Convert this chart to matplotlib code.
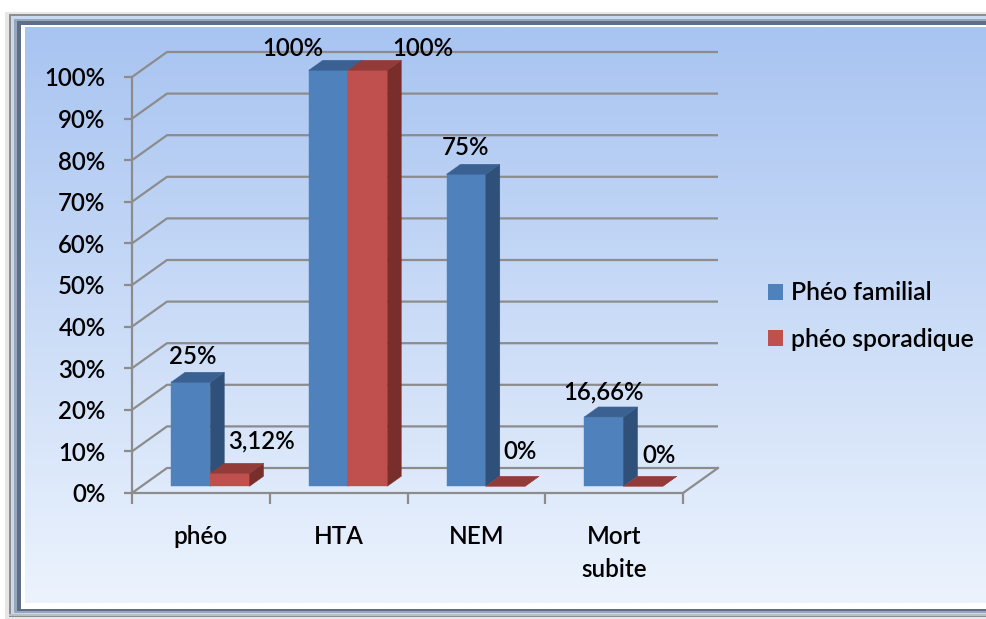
import matplotlib.pyplot as plt
import numpy as np
from matplotlib.patches import Polygon, Patch, Rectangle
from matplotlib.colors import to_rgb

plt.rcParams['font.family'] = ['Lato', 'DejaVu Sans']
plt.rcParams['font.weight'] = 'semibold'

# data
categories = ['phéo', 'HTA', 'NEM', 'Mort\nsubite']
series_names = ['Phéo familial', 'phéo sporadique']
familial = [25, 100, 75, 16.66]
sporadique = [3.12, 100, 0, 0]
familial_labels = ['25%', '100%', '75%', '16,66%']
sporadique_labels = ['3,12%', '100%', '0%', '0%']
yticks = list(range(0, 101, 10))

# colours: front, side, top
blue = ('#4F81BD', '#2F5079', '#3A6192')
red = ('#C0504D', '#7A2E2C', '#923B38')
grid_col = '#8C8C8C'

# label nudges in px (dx, dy) from the top-front-centre of each bar
fam_nudge = [(2, 26), (-36, 22), (-1, 27), (0, 25)]
spo_nudge = [(32, 32), (55, 22), (15, 35), (16, 31)]

W, H = 987, 619
fig = plt.figure(figsize=(W / 100, H / 100), dpi=100)

# background: bevelled frame + vertical gradient
bg = fig.add_axes([0, 0, 1, 1])
frame = [
    (5, 12, 619, '#E6E6E6'),
    (9, 14, 617, '#8E8E8E'),
    (11, 16, 615, '#C9DAF0'),
    (14, 19, 613, '#98A6BA'),
    (17, 21, 611, '#5E6D88'),
    (21, 25, 609, '#FFFFFF'),
]
for x0, y0, y1, c in frame:
    bg.add_patch(Rectangle((x0, y0), 1100, y1 - y0, color=c, lw=0, zorder=1))
bg.add_patch(Rectangle((9, 614), 1100, 2, color='#B8BEC8', lw=0, zorder=1))
top = np.array(to_rgb('#A8C4F1'))
bot = np.array(to_rgb('#ECF3FD'))
t = np.linspace(0, 1, 256)[:, None]
grad = (top * (1 - t) + bot * t)[:, None, :]
bg.imshow(grad, extent=(25, 1000, 603, 27), aspect='auto', interpolation='bilinear', zorder=2)
bg.set_xlim(0, W)
bg.set_ylim(H, 0)
bg.axis('off')

# plot area: front plane, x in category units, y in percent
x_left, x_right, y_zero, y_full = 132, 683, 493, 77
ax = fig.add_axes([x_left / W, 1 - y_zero / H, (x_right - x_left) / W, (y_zero - y_full) / H])
ax.set_facecolor('none')
ax.set_xlim(0, 4)
ax.set_ylim(0, 100)

px_x = 4 / (x_right - x_left)
px_y = 100 / (y_zero - y_full)
DX = 35 * px_x   # depth offset
DY = 25 * px_y

# walls: gridlines running back along the side wall then across the back wall
for v in yticks:
    ax.plot([0, DX, 4 + DX], [v, v + DY, v + DY], color=grid_col, lw=1.6,
            clip_on=False, zorder=1, solid_capstyle='butt')
ax.plot([4, 4 + DX], [0, DY], color=grid_col, lw=1.6, clip_on=False, zorder=1)

for s in ['top', 'right']:
    ax.spines[s].set_visible(False)
for s in ['left', 'bottom']:
    ax.spines[s].set_color(grid_col)
    ax.spines[s].set_linewidth(1.6)
    ax.spines[s].set_zorder(2)

ax.set_yticks(yticks)
ax.set_yticklabels([f'{v}%' for v in yticks])
ax.tick_params(axis='y', direction='out', length=6, width=1.6, color=grid_col,
               pad=13, labelsize=17.3)
ax.set_xticks(range(5))
ax.set_xticklabels([])
ax.set_xticks([i + 0.5 for i in range(4)], minor=True)
ax.set_xticklabels(categories, minor=True)
ax.tick_params(axis='x', which='major', direction='out', length=8, width=1.6, color=grid_col)
ax.tick_params(axis='x', which='minor', length=0, pad=23, labelsize=17.5)
for lbl in ax.get_xticklabels(minor=True):
    lbl.set_linespacing(1.55)

# 3d columns
bw = 0.285
gap = (1 - 2 * bw) / 2
d0, d1 = 0.27, 0.67


def column(xl, v, cols):
    xr = xl + bw
    fx0, fy0 = d0 * DX, d0 * DY
    bx0, by0 = d1 * DX, d1 * DY
    front = [(xl + fx0, fy0), (xr + fx0, fy0), (xr + fx0, v + fy0), (xl + fx0, v + fy0)]
    side = [(xr + fx0, fy0), (xr + bx0, by0), (xr + bx0, v + by0), (xr + fx0, v + fy0)]
    topf = [(xl + fx0, v + fy0), (xr + fx0, v + fy0), (xr + bx0, v + by0), (xl + bx0, v + by0)]
    for pts, c in ((front, cols[0]), (side, cols[1]), (topf, cols[2])):
        ax.add_patch(Polygon(pts, closed=True, facecolor=c, edgecolor=c, lw=0.3,
                             clip_on=False, zorder=3))
    return xl + fx0 + bw / 2, v + fy0


for i in range(len(categories)):
    for s, (vals, labs, nudge, cols) in enumerate((
            (familial, familial_labels, fam_nudge, blue),
            (sporadique, sporadique_labels, spo_nudge, red))):
        cx, cy = column(i + gap + s * bw, vals[i], cols)
        dx, dy = nudge[i]
        ax.annotate(labs[i], (cx, cy), xytext=(dx * 0.72, dy * 0.72),
                    textcoords='offset points', ha='center', va='center',
                    fontsize=17.3, zorder=5, annotation_clip=False)

handles = [Patch(facecolor=blue[0]), Patch(facecolor=red[0])]
fig.legend(handles, series_names, loc='center left',
           bbox_to_anchor=(768 / W, 1 - 316 / H), frameon=False, fontsize=17.8,
           handlelength=0.62, handleheight=0.62, handletextpad=0.3,
           labelspacing=0.95, borderpad=0, borderaxespad=0)

fig.savefig('out.png', dpi=100)
